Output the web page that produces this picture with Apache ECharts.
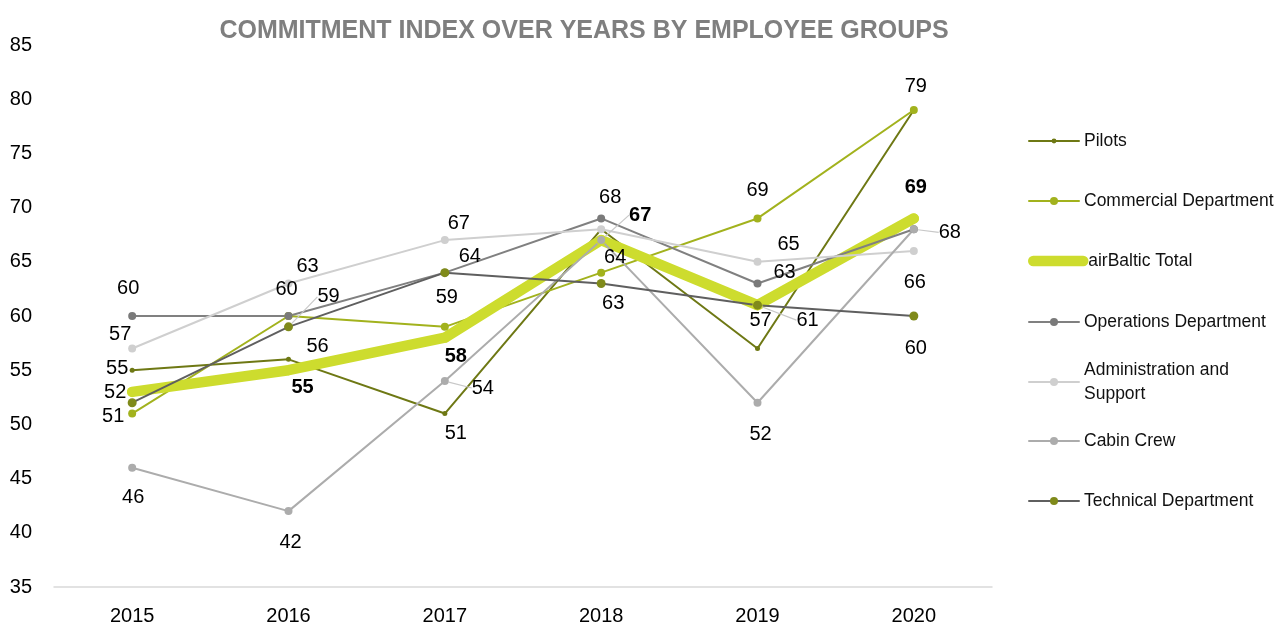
<!DOCTYPE html>
<html>
<head>
<meta charset="utf-8">
<title>Commitment index over years by employee groups</title>
<script src="https://cdn.jsdelivr.net/npm/echarts@6/dist/echarts.min.js"></script>
<style>
  html, body { margin: 0; padding: 0; background: #fff; }
  #chart { width: 1278px; height: 626px; }
</style>
</head>
<body>
<div id="chart"></div>
<script>
// Survey years and commitment index per employee group
const years = ['2015', '2016', '2017', '2018', '2019', '2020'];
const pilots = [55, 56, 51, 68, 57, 79];
const commercialDepartment = [51, 60, 59, 64, 69, 79];
const airBalticTotal = [53, 55, 58, 67, 61, 69];
const operationsDepartment = [60, 60, 64, 69, 63, 68];
const administrationSupport = [57, 63, 67, 68, 65, 66];
const cabinCrew = [46, 42, 54, 67, 52, 68];
const technicalDepartment = [52, 59, 64, 63, 61, 60];

// Value axis range
const yMin = 35;
const yMax = 85;
const yStep = 5;

const FONT = "'Liberation Sans', Arial, sans-serif";

// Per-group look; label shifts are [dx, dy] from the point, null = no label,
// leaders lists the points whose label gets a guide line
const groups = [
  { name: 'Pilots', values: pilots, line: '#6e7814', marker: '#6e7814', width: 2, size: 5, legendH: 6,
    shifts: [[-15, -2], [29, -13], [11, 20], null, [3, -28], null], leaders: [] },
  { name: 'Commercial Department', values: commercialDepartment, line: '#a2b21d', marker: '#a2b21d', width: 2, size: 8, legendH: 10,
    shifts: [[-19, 3], null, [2, -29], [14, -15], [0, -28], [2, -24]], leaders: [] },
  { name: 'airBaltic Total', values: airBalticTotal, line: '#cddc2e', marker: '#cddc2e', width: 10.5, size: 10, legendH: 12, bold: true,
    shifts: [null, [14, 17], [11, 19], [39, -25], null, [2, -31]], leaders: [3] },
  { name: 'Operations Department', values: operationsDepartment, line: '#808080', marker: '#7a7a7a', width: 2, size: 8, legendH: 10,
    shifts: [[-4, -28], [-2, -27], null, null, [27, -11], [36, 3]], leaders: [5] },
  { name: 'Administration and Support', values: administrationSupport, line: '#cfcfcf', marker: '#cfcfcf', width: 2, size: 8, legendH: 10,
    shifts: [[-12, -14], [19, -17], [14, -17], [9, -32], [31, -17], [1, 32]], leaders: [] },
  { name: 'Cabin Crew', values: cabinCrew, line: '#acacac', marker: '#acacac', width: 2, size: 8, legendH: 10,
    shifts: [[1, 30], [2, 31], [38, 7], null, [3, 32], null], leaders: [2] },
  { name: 'Technical Department', values: technicalDepartment, line: '#5f5f5f', marker: '#7f8a1a', width: 2, size: 9, legendH: 10,
    shifts: [[-17, -10], [40, -30], [25, -16], [12, 20], [50, 15], [2, 32]], leaders: [1, 4] }
];

// Legend rows: vertical centre of each entry
const legendCentres = [136, 196, 256, 317, 377, 436, 496];

const series = groups.map(function (g) {
  return {
    name: g.name,
    type: 'line',
    symbol: 'circle',
    symbolSize: g.size,
    showAllSymbol: true,
    lineStyle: { color: g.line, width: g.width, cap: 'round', join: 'round' },
    itemStyle: { color: g.marker },
    emphasis: { disabled: true },
    label: {
      show: true,
      position: 'inside',
      fontFamily: FONT,
      fontSize: 20,
      fontWeight: g.bold ? 'bold' : 'normal',
      color: '#000'
    },
    labelLine: { show: false },
    labelLayout: function (p) {
      const s = g.shifts[p.dataIndex];
      return s ? { dx: s[0], dy: s[1] } : {};
    },
    data: g.values.map(function (v, i) {
      const item = { value: v };
      if (!g.shifts[i]) {
        item.label = { show: false };
      } else if (g.leaders.indexOf(i) >= 0) {
        item.labelLine = { show: true, lineStyle: { color: '#c8c8c8', width: 1.2 } };
      }
      return item;
    })
  };
});

const legends = groups.map(function (g, i) {
  const twoLine = g.name === 'Administration and Support';
  const boxH = twoLine ? 72 : 24;
  return {
    orient: 'vertical',
    left: 1023,
    top: legendCentres[i] - boxH / 2,
    itemWidth: 50,
    itemHeight: g.legendH,
    itemGap: 0,
    selectedMode: false,
    lineStyle: { width: 'inherit' },
    formatter: twoLine ? 'Administration and\nSupport' : '{name}',
    textStyle: {
      fontFamily: FONT,
      fontSize: 17.5,
      lineHeight: 24,
      color: '#111',
      padding: twoLine ? [24, 0, 0, 0] : 0
    },
    data: [g.name]
  };
});

const chart = echarts.init(document.getElementById('chart'));
chart.setOption({
  animation: false,
  backgroundColor: '#fff',
  title: {
    text: 'COMMITMENT INDEX OVER YEARS BY EMPLOYEE GROUPS',
    left: 579,
    top: 14,
    textAlign: 'center',
    textStyle: {
      fontFamily: FONT,
      fontSize: 25,
      fontWeight: 'bold',
      color: '#7f7f7f'
    }
  },
  legend: legends,
  grid: { left: 54, right: 286, top: 45, bottom: 39 },
  xAxis: {
    type: 'category',
    data: years,
    boundaryGap: true,
    axisLine: { show: true, lineStyle: { color: '#d9d9d9', width: 1.5 } },
    axisTick: { show: false },
    axisLabel: { fontFamily: FONT, fontSize: 20, color: '#000', margin: 19 }
  },
  yAxis: {
    type: 'value',
    min: yMin,
    max: yMax,
    interval: yStep,
    axisLine: { show: false },
    axisTick: { show: false },
    splitLine: { show: false },
    axisLabel: { fontFamily: FONT, fontSize: 20, color: '#000', margin: 22 }
  },
  series: series
});
</script>
</body>
</html>
